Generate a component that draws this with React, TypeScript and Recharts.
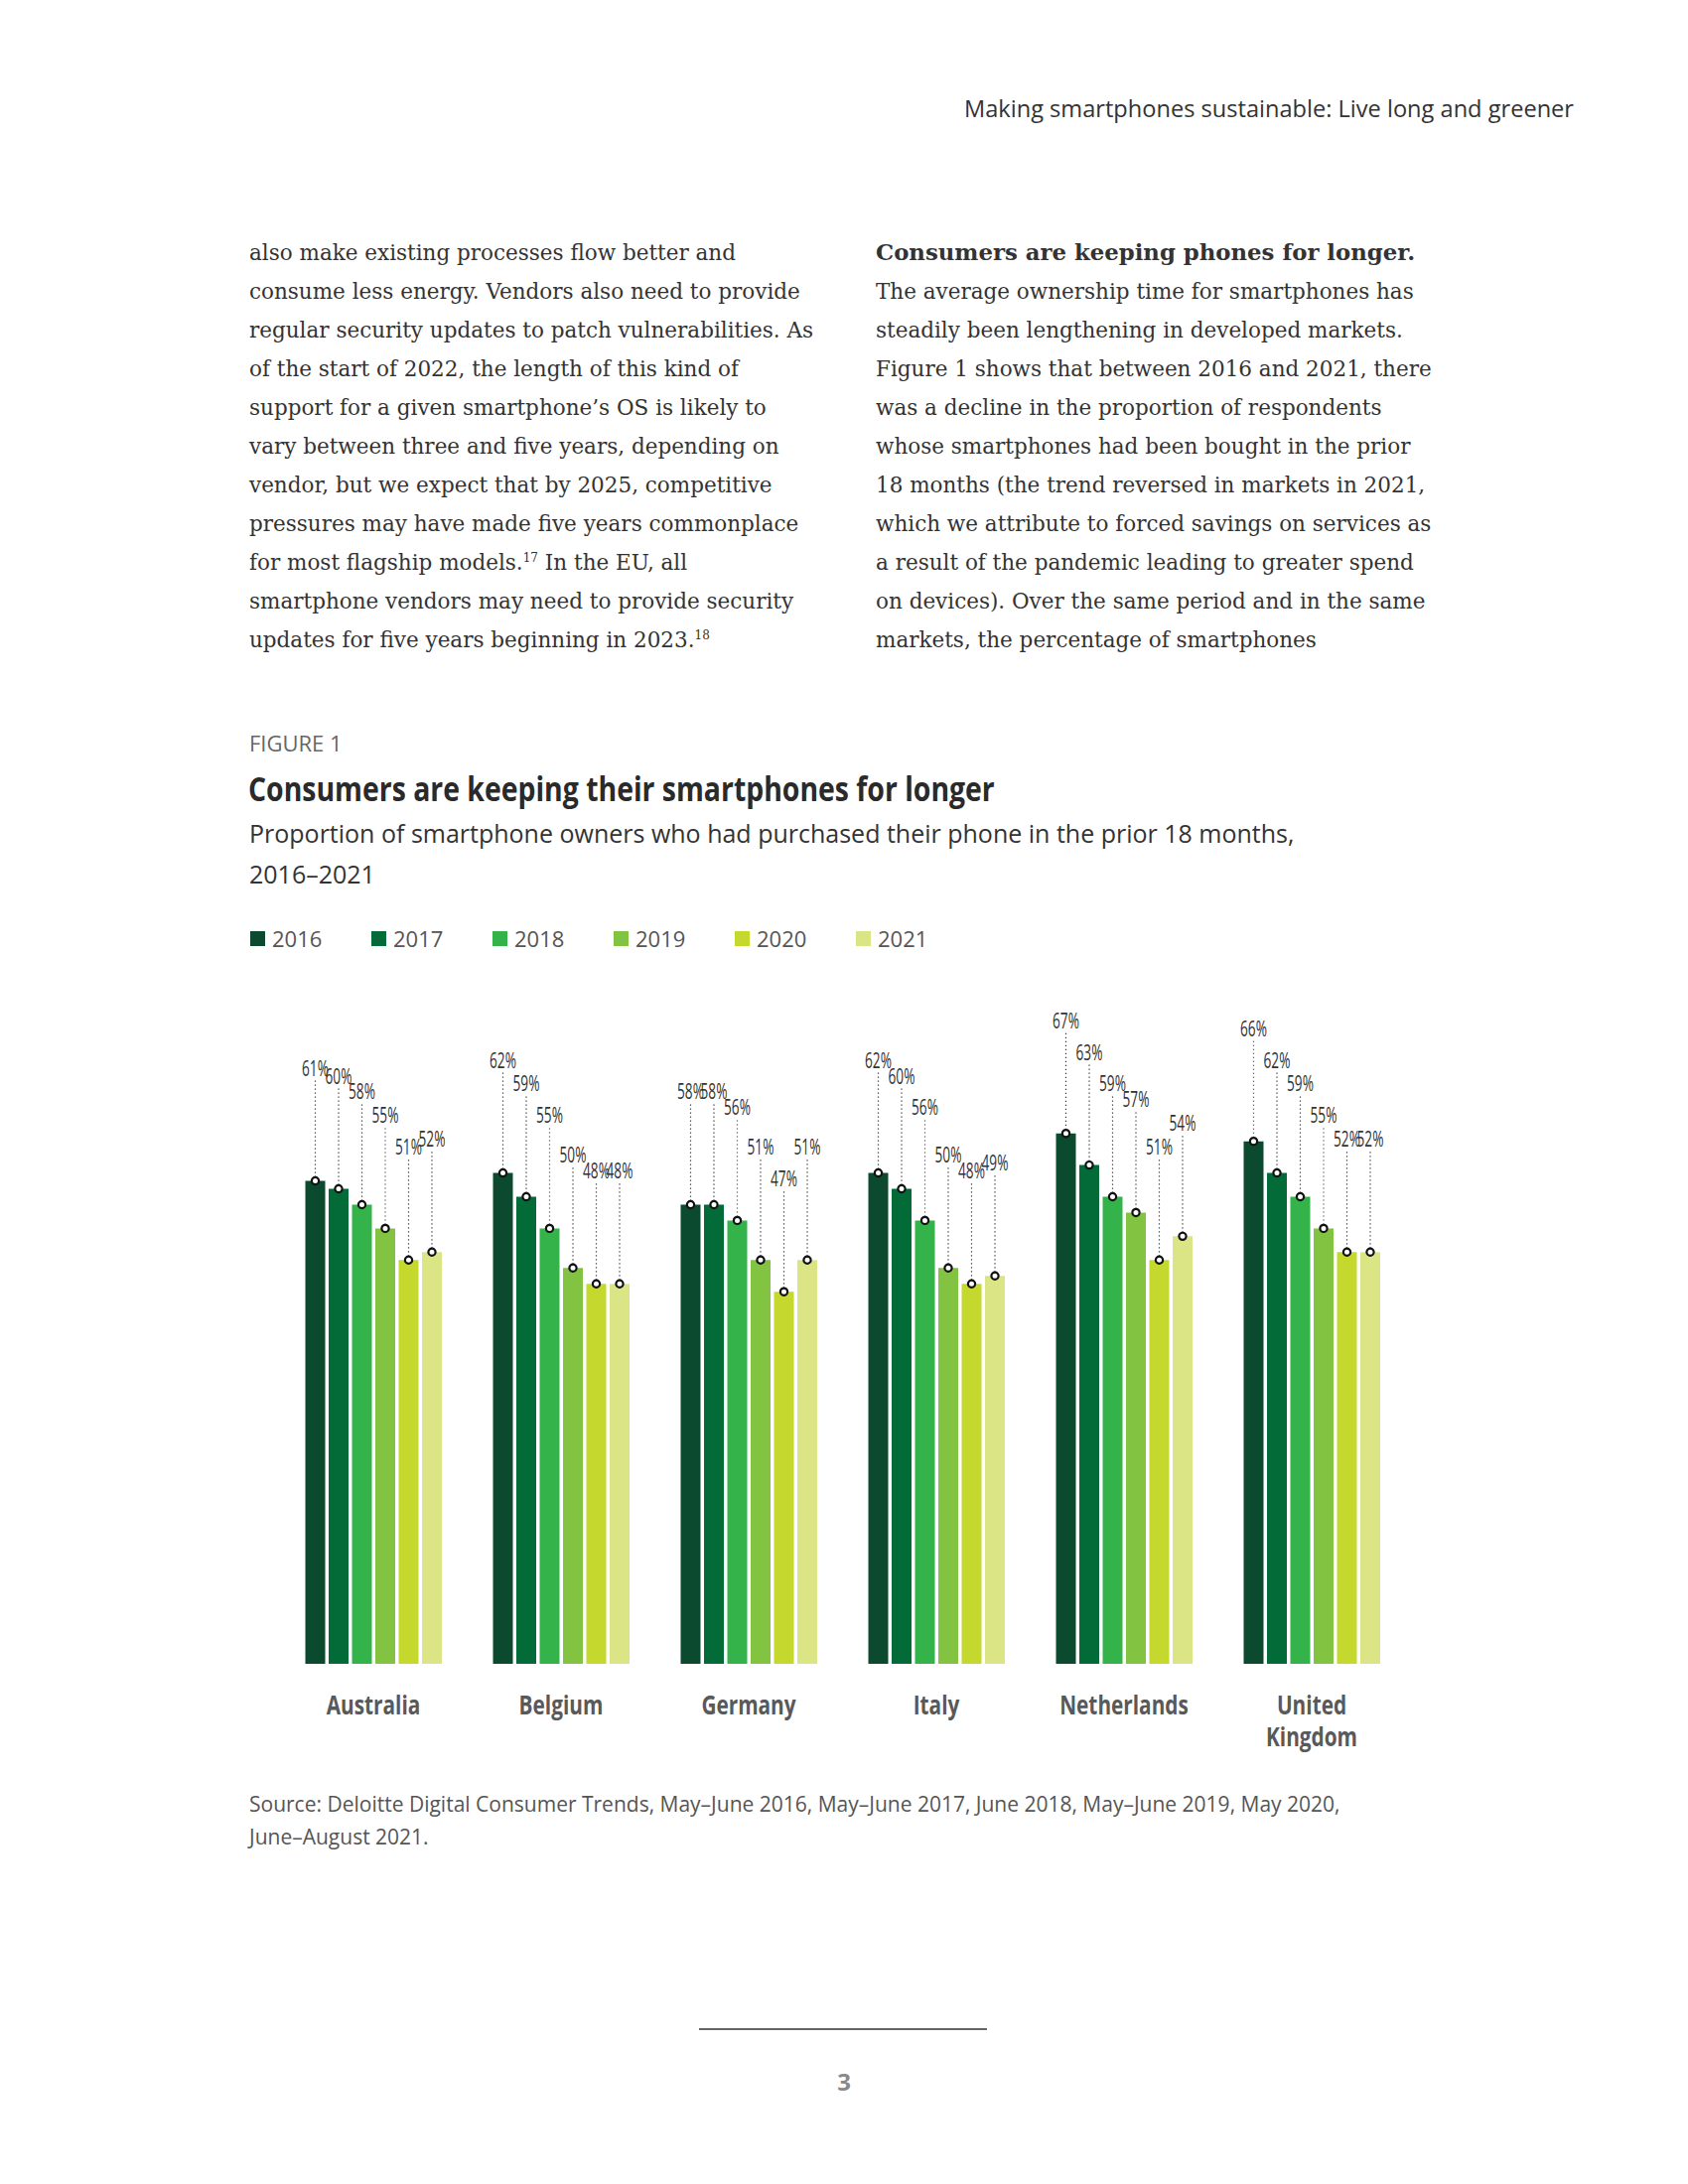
import React from 'react';
import { BarChart, Bar, XAxis, YAxis, LabelList, Legend } from 'recharts';

const countries = ['Australia', 'Belgium', 'Germany', 'Italy', 'Netherlands', 'United Kingdom'];
const years = ['2016', '2017', '2018', '2019', '2020', '2021'];
const v2016 = [61, 62, 58, 62, 67, 66];
const v2017 = [60, 59, 58, 60, 63, 62];
const v2018 = [58, 55, 56, 56, 59, 59];
const v2019 = [55, 50, 51, 50, 57, 55];
const v2020 = [51, 48, 47, 48, 51, 52];
const v2021 = [52, 48, 51, 49, 54, 52];
const yearColors = ['#0b4a2e', '#036b37', '#33b34a', '#82c341', '#c5d82e', '#dbe585'];

const seriesValues = [v2016, v2017, v2018, v2019, v2020, v2021];
const data = countries.map((c, i) => {
  const row: any = { country: c };
  years.forEach((y, k) => {
    row['y' + y] = seriesValues[k][i];
  });
  return row;
});

const leftLines: any[] = [
  'also make existing processes flow better and',
  'consume less energy. Vendors also need to provide',
  'regular security updates to patch vulnerabilities. As',
  'of the start of 2022, the length of this kind of',
  'support for a given smartphone\u2019s OS is likely to',
  'vary between three and five years, depending on',
  'vendor, but we expect that by 2025, competitive',
  'pressures may have made five years commonplace',
  ['for most flagship models.', '17', ' In the EU, all'],
  'smartphone vendors may need to provide security',
  ['updates for five years beginning in 2023.', '18', ''],
];

const rightLines: string[] = [
  'The average ownership time for smartphones has',
  'steadily been lengthening in developed markets.',
  'Figure 1 shows that between 2016 and 2021, there',
  'was a decline in the proportion of respondents',
  'whose smartphones had been bought in the prior',
  '18 months (the trend reversed in markets in 2021,',
  'which we attribute to forced savings on services as',
  'a result of the pandemic leading to greater spend',
  'on devices). Over the same period and in the same',
  'markets, the percentage of smartphones',
];

const serif = '"DejaVu Serif", "Liberation Serif", serif';
const sans = '"Open Sans", "Noto Sans", sans-serif';

const ValueLabel = (props: any) => {
  const { x, y, width, value } = props;
  const cx = Number(x) + Number(width) / 2;
  const top = Number(y);
  return (
    <g>
      <line x1={cx} x2={cx} y1={top - 101} y2={top} stroke="#333" strokeWidth={1.2} strokeDasharray="1.2 2.8" />
      <circle cx={cx} cy={top} r={3.6} fill="#fff" stroke="#111" strokeWidth={2.2} />
      <text
        transform={`translate(${cx} ${top - 115}) scale(0.62 1)`}
        x={0}
        y={0}
        textAnchor="middle"
        dominantBaseline="central"
        fontFamily={sans}
        fontWeight={400}
        fontSize={22}
        fill="#333"
      >
        {value}%
      </text>
    </g>
  );
};

const CountryTick = (props: any) => {
  const { x, y, payload } = props;
  const parts = String(payload.value).split(' ');
  return (
    <g>
      {parts.map((p: string, i: number) => (
        <text
          key={i}
          transform={`translate(${x} ${Number(y) + 41 + i * 32}) scale(0.8 1)`}
          x={0}
          y={0}
          textAnchor="middle"
          dominantBaseline="central"
          fontFamily={sans}
          fontWeight={700}
          fontSize={26}
          fill="#58595b"
        >
          {p}
        </text>
      ))}
    </g>
  );
};

const LegendContent = (props: any) => {
  const { payload } = props;
  return (
    <div style={{ display: 'flex', fontFamily: sans }}>
      {(payload || []).map((item: any, i: number) => (
        <div key={i} style={{ width: 122, display: 'flex', alignItems: 'center' }}>
          <span style={{ display: 'inline-block', width: 15, height: 15, background: item.color, marginRight: 7 }} />
          <span style={{ fontSize: 22, color: '#555', lineHeight: '24px' }}>{item.value}</span>
        </div>
      ))}
    </div>
  );
};

export default function App() {
  return (
    <div style={{ position: 'absolute', left: 0, top: 0, width: 1700, height: 2200, background: '#fff', overflow: 'hidden' }}>
      <div
        style={{
          position: 'absolute',
          right: 115,
          top: 94,
          fontFamily: sans,
          fontSize: 23.6,
          lineHeight: '30px',
          color: '#333',
          whiteSpace: 'nowrap',
        }}
      >
        Making smartphones sustainable: Live long and greener
      </div>

      <div style={{ position: 'absolute', left: 251, top: 235, fontFamily: serif, fontSize: 21.5, lineHeight: '39px', color: '#333' }}>
        {leftLines.map((l, i) => (
          <div key={i} style={{ whiteSpace: 'nowrap', height: 39 }}>
            {Array.isArray(l) ? (
              <>
                {l[0]}
                <sup style={{ fontSize: 12, verticalAlign: 'top', position: 'relative', top: -4 }}>{l[1]}</sup>
                {l[2]}
              </>
            ) : (
              l
            )}
          </div>
        ))}
      </div>

      <div style={{ position: 'absolute', left: 882, top: 235, fontFamily: serif, fontSize: 21.5, lineHeight: '39px', color: '#333' }}>
        <div style={{ whiteSpace: 'nowrap', height: 39, fontWeight: 700, fontSize: 22.8 }}>
          Consumers are keeping phones for longer.
        </div>
        {rightLines.map((l, i) => (
          <div key={i} style={{ whiteSpace: 'nowrap', height: 39 }}>
            {l}
          </div>
        ))}
      </div>

      <div style={{ position: 'absolute', left: 251, top: 735, fontFamily: sans, fontSize: 22, lineHeight: '26px', color: '#666' }}>
        FIGURE 1
      </div>
      <div
        style={{
          position: 'absolute',
          left: 250,
          top: 773,
          fontFamily: sans,
          fontWeight: 700,
          fontSize: 34,
          lineHeight: '42px',
          color: '#2a2a2a',
          whiteSpace: 'nowrap',
          transform: 'scaleX(0.835)',
          transformOrigin: 'left center',
        }}
      >
        Consumers are keeping their smartphones for longer
      </div>
      <div style={{ position: 'absolute', left: 251, top: 819, fontFamily: sans, fontSize: 25, lineHeight: '41px', color: '#333' }}>
        <div style={{ whiteSpace: 'nowrap' }}>
          Proportion of smartphone owners who had purchased their phone in the prior 18 months,
        </div>
        <div>2016–2021</div>
      </div>

      <div style={{ position: 'absolute', left: 0, top: 900, width: 1700, height: 900 }}>
        <BarChart
          width={1700}
          height={900}
          data={data}
          margin={{ top: 138, left: 281.5, right: 284.5, bottom: 24 }}
          barCategoryGap={26}
          barGap={3.5}
        >
          <XAxis
            dataKey="country"
            axisLine={false}
            tickLine={false}
            tickSize={0}
            tickMargin={0}
            interval={0}
            height={100}
            tick={<CountryTick />}
          />
          <YAxis hide domain={[0, 80]} />
          <Legend
            layout="vertical"
            verticalAlign="middle"
            align="center"
            content={<LegendContent />}
            wrapperStyle={{ position: 'absolute', top: 33, left: 252, width: 800, height: 26 }}
          />
          {years.map((y, k) => (
            <Bar key={y} dataKey={'y' + y} name={y} fill={yearColors[k]} isAnimationActive={false}>
              <LabelList dataKey={'y' + y} content={<ValueLabel />} />
            </Bar>
          ))}
        </BarChart>
      </div>

      <div style={{ position: 'absolute', left: 251, top: 1801, fontFamily: sans, fontSize: 21, lineHeight: '33px', color: '#555' }}>
        <div style={{ whiteSpace: 'nowrap' }}>
          Source: Deloitte Digital Consumer Trends, May–June 2016, May–June 2017, June 2018, May–June 2019, May 2020,
        </div>
        <div>June–August 2021.</div>
      </div>

      <div style={{ position: 'absolute', left: 704, top: 2043, width: 290, height: 2, background: '#666' }} />
      <div
        style={{
          position: 'absolute',
          left: 800,
          width: 100,
          top: 2083,
          textAlign: 'center',
          fontFamily: sans,
          fontWeight: 700,
          fontSize: 24,
          lineHeight: '28px',
          color: '#8a8a8a',
        }}
      >
        3
      </div>
    </div>
  );
}
